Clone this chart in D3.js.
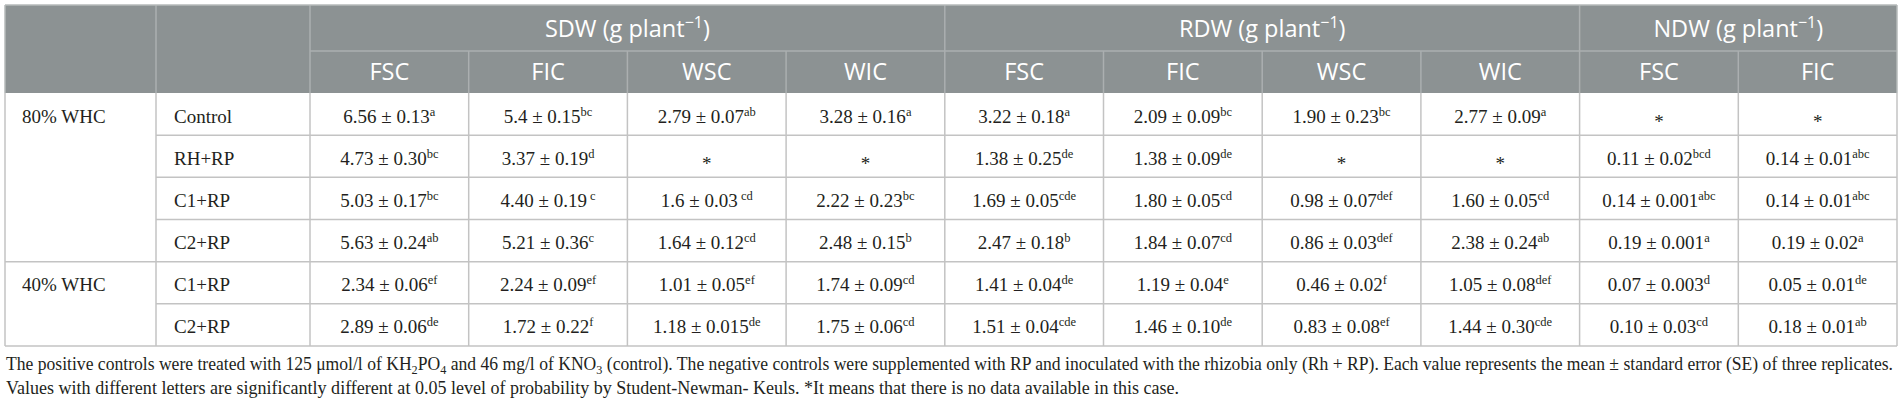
<!DOCTYPE html>
<html>
<head>
<meta charset="utf-8">
<script src="https://cdn.jsdelivr.net/npm/d3@7/dist/d3.min.js"></script>
<style>
  html, body { margin: 0; padding: 0; background: #fff; }
  svg { display: block; }
</style>
</head>
<body>
<svg id="chart" width="1902" height="403"></svg>
<script>
// ---------- DATA ----------
const groupLabels = ["80% WHC", "40% WHC"];
const groupSizes = [4, 2];
const treatments = ["Control", "RH+RP", "C1+RP", "C2+RP", "C1+RP", "C2+RP"];
const measures = ["SDW", "RDW", "NDW"];
const subColumns = [["FSC", "FIC", "WSC", "WIC"], ["FSC", "FIC", "WSC", "WIC"], ["FSC", "FIC"]];

// each cell: [mean, standard error, letters]; null = no data (*)
const sdwFSC = [["6.56","0.13","a"],["4.73","0.30","bc"],["5.03","0.17","bc"],["5.63","0.24","ab"],["2.34","0.06","ef"],["2.89","0.06","de"]];
const sdwFIC = [["5.4","0.15","bc"],["3.37","0.19","d"],["4.40","0.19"," c"],["5.21","0.36","c"],["2.24","0.09","ef"],["1.72","0.22","f"]];
const sdwWSC = [["2.79","0.07","ab"],null,["1.6","0.03"," cd"],["1.64","0.12","cd"],["1.01","0.05","ef"],["1.18","0.015","de"]];
const sdwWIC = [["3.28","0.16","a"],null,["2.22","0.23","bc"],["2.48","0.15","b"],["1.74","0.09","cd"],["1.75","0.06","cd"]];
const rdwFSC = [["3.22","0.18","a"],["1.38","0.25","de"],["1.69","0.05","cde"],["2.47","0.18","b"],["1.41","0.04","de"],["1.51","0.04","cde"]];
const rdwFIC = [["2.09","0.09","bc"],["1.38","0.09","de"],["1.80","0.05","cd"],["1.84","0.07","cd"],["1.19","0.04","e"],["1.46","0.10","de"]];
const rdwWSC = [["1.90","0.23","bc"],null,["0.98","0.07","def"],["0.86","0.03","def"],["0.46","0.02","f"],["0.83","0.08","ef"]];
const rdwWIC = [["2.77","0.09","a"],null,["1.60","0.05","cd"],["2.38","0.24","ab"],["1.05","0.08","def"],["1.44","0.30","cde"]];
const ndwFSC = [null,["0.11","0.02","bcd"],["0.14","0.001","abc"],["0.19","0.001","a"],["0.07","0.003","d"],["0.10","0.03","cd"]];
const ndwFIC = [null,["0.14","0.01","abc"],["0.14","0.01","abc"],["0.19","0.02","a"],["0.05","0.01","de"],["0.18","0.01","ab"]];
const dataColumns = [sdwFSC, sdwFIC, sdwWSC, sdwWIC, rdwFSC, rdwFIC, rdwWSC, rdwWIC, ndwFSC, ndwFIC];

const footLine1 = [
  ["The positive controls were treated with 125 μmol/l of KH", 0], ["2", 1], ["PO", 0], ["4", 1],
  [" and 46 mg/l of KNO", 0], ["3", 1],
  [" (control). The negative controls were supplemented with RP and inoculated with the rhizobia only (Rh + RP). Each value represents the mean ± standard error (SE) of three replicates.", 0]
];
const footLine2 = "Values with different letters are significantly different at 0.05 level of probability by Student-Newman- Keuls. *It means that there is no data available in this case.";

// ---------- LAYOUT ----------
const svg = d3.select("#chart");
const L = 5, R = 1897, T = 5, H1 = 51, HB = 93, B = 346;
const c1 = 156, c2 = 310;
const nData = dataColumns.length;
const x = d3.scaleLinear().domain([0, nData]).range([c2, R]);
const y = d3.scaleLinear().domain([0, treatments.length]).range([HB, B]);

const headFill = "#8c9293", headLine = "#abafb0", gridCol = "#c3c3c3", textCol = "#231f20";
const sans = "'Open Sans', 'Noto Sans', sans-serif";
const serif = "'Liberation Serif', 'Times New Roman', serif";

// header background
svg.append("rect").attr("x", L).attr("y", T).attr("width", R - L).attr("height", HB - T).attr("fill", headFill);

// header lines
const measureStart = [];
let acc = 0;
subColumns.forEach(s => { measureStart.push(acc); acc += s.length; });
svg.append("line").attr("x1", c2).attr("x2", R).attr("y1", H1).attr("y2", H1)
  .attr("stroke", headLine).attr("stroke-width", 1.5);
const fullVert = [c1, c2].concat(measureStart.slice(1).map(i => x(i)));
fullVert.forEach(v => svg.append("line").attr("x1", v).attr("x2", v).attr("y1", T).attr("y2", HB)
  .attr("stroke", headLine).attr("stroke-width", 1.5));
d3.range(1, nData).filter(i => !measureStart.includes(i)).forEach(i =>
  svg.append("line").attr("x1", x(i)).attr("x2", x(i)).attr("y1", H1).attr("y2", HB)
    .attr("stroke", headLine).attr("stroke-width", 1.5));

// header text row 1
measures.forEach((m, k) => {
  const cx = (x(measureStart[k]) + x(measureStart[k] + subColumns[k].length)) / 2;
  const t = svg.append("text").attr("x", cx).attr("y", 37).attr("text-anchor", "middle")
    .attr("fill", "#fff").attr("font-family", sans).attr("font-size", 23.5);
  t.append("tspan").text(m + " (g plant");
  t.append("tspan").attr("font-size", 16).attr("dy", -9).text("\u22121");
  t.append("tspan").attr("dy", 9).text(")");
});
// header text row 2
subColumns.flat().forEach((s, i) => {
  svg.append("text").attr("x", (x(i) + x(i + 1)) / 2).attr("y", 80).attr("text-anchor", "middle")
    .attr("fill", "#fff").attr("font-family", sans).attr("font-size", 23.5).text(s);
});

// body grid lines
let groupEnds = [];
acc = 0;
groupSizes.forEach(n => { acc += n; groupEnds.push(acc); });
d3.range(1, treatments.length + 1).forEach(r => {
  const full = groupEnds.includes(r);
  svg.append("line").attr("x1", full ? L : c1).attr("x2", R).attr("y1", y(r)).attr("y2", y(r))
    .attr("stroke", gridCol).attr("stroke-width", 1.5);
});
[L, c1, c2].concat(d3.range(1, nData + 1).map(i => x(i))).forEach(v =>
  svg.append("line").attr("x1", v).attr("x2", v).attr("y1", HB).attr("y2", B)
    .attr("stroke", gridCol).attr("stroke-width", 1.5));
// outer border for header sides/top
svg.append("line").attr("x1", L).attr("x2", R).attr("y1", T).attr("y2", T).attr("stroke", "#b6baba").attr("stroke-width", 1.5);
svg.append("line").attr("x1", L).attr("x2", L).attr("y1", T).attr("y2", HB).attr("stroke", "#b6baba").attr("stroke-width", 1.5);
svg.append("line").attr("x1", R).attr("x2", R).attr("y1", T).attr("y2", HB).attr("stroke", "#b6baba").attr("stroke-width", 1.5);

// body text
const baseOff = 29.5;
let gStart = 0;
groupLabels.forEach((g, k) => {
  svg.append("text").attr("x", 22).attr("y", y(gStart) + baseOff)
    .attr("fill", textCol).attr("font-family", serif).attr("font-size", 19).text(g);
  gStart += groupSizes[k];
});
treatments.forEach((t, r) => {
  svg.append("text").attr("x", 174).attr("y", y(r) + baseOff)
    .attr("fill", textCol).attr("font-family", serif).attr("font-size", 19).text(t);
});
dataColumns.forEach((col, i) => {
  const cx = (x(i) + x(i + 1)) / 2;
  col.forEach((cell, r) => {
    const t = svg.append("text").attr("x", cx).attr("y", y(r) + baseOff).attr("text-anchor", "middle")
      .attr("fill", textCol).attr("font-family", serif).attr("font-size", 19);
    if (cell === null) {
      t.attr("dy", 5).text("*");
    } else {
      t.append("tspan").text(cell[0] + " \u00b1 " + cell[1]);
      t.append("tspan").attr("font-size", 12.5).attr("dy", -7).text(cell[2]);
    }
  });
});

// footnotes
const f1 = svg.append("text").attr("x", 6).attr("y", 370).attr("fill", textCol)
  .attr("font-family", serif).attr("font-size", 18)
  .attr("textLength", 1887).attr("lengthAdjust", "spacingAndGlyphs");
let prevSub = 0;
footLine1.forEach(([s, sub]) => {
  const dy = sub === prevSub ? 0 : (sub ? 4 : -4);
  f1.append("tspan").attr("dy", dy).attr("font-size", sub ? 12.5 : 18).text(s);
  prevSub = sub;
});
svg.append("text").attr("x", 6).attr("y", 394).attr("fill", textCol)
  .attr("font-family", serif).attr("font-size", 18)
  .attr("textLength", 1173).attr("lengthAdjust", "spacingAndGlyphs").text(footLine2);
</script>
</body>
</html>
